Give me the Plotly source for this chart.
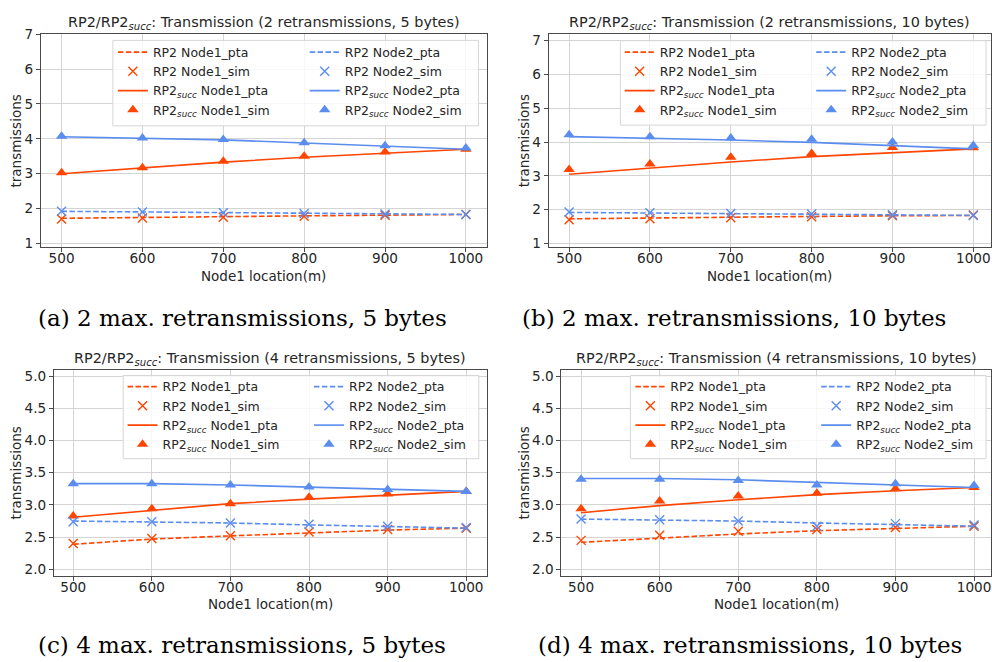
import plotly.graph_objects as go

W, H = 992, 662

X_LOC = [500, 600, 700, 800, 900, 1000]

# Panel (a): 2 retransmissions, 5 bytes
A_RP2_N1_PTA = [1.72, 1.75, 1.77, 1.79, 1.81, 1.83]
A_RP2_N1_SIM = [1.70, 1.73, 1.75, 1.78, 1.81, 1.83]
A_SUCC_N1_PTA = [3.00, 3.17, 3.33, 3.47, 3.59, 3.70]
A_SUCC_N1_SIM = [3.03, 3.17, 3.36, 3.50, 3.62, 3.70]
A_RP2_N2_PTA = [1.92, 1.90, 1.88, 1.86, 1.84, 1.83]
A_RP2_N2_SIM = [1.92, 1.90, 1.88, 1.86, 1.84, 1.83]
A_SUCC_N2_PTA = [4.06, 4.02, 3.97, 3.88, 3.79, 3.70]
A_SUCC_N2_SIM = [4.07, 4.02, 3.98, 3.89, 3.80, 3.74]

# Panel (b): 2 retransmissions, 10 bytes
B_RP2_N1_PTA = [1.73, 1.76, 1.78, 1.80, 1.82, 1.83]
B_RP2_N1_SIM = [1.70, 1.73, 1.76, 1.79, 1.82, 1.84]
B_SUCC_N1_PTA = [3.05, 3.24, 3.41, 3.57, 3.69, 3.80]
B_SUCC_N1_SIM = [3.19, 3.35, 3.55, 3.66, 3.84, 3.83]
B_RP2_N2_PTA = [1.92, 1.90, 1.88, 1.86, 1.85, 1.83]
B_RP2_N2_SIM = [1.93, 1.91, 1.89, 1.87, 1.85, 1.83]
B_SUCC_N2_PTA = [4.16, 4.12, 4.06, 3.99, 3.89, 3.80]
B_SUCC_N2_SIM = [4.22, 4.16, 4.12, 4.08, 4.00, 3.90]

# Panel (c): 4 retransmissions, 5 bytes
C_RP2_N1_PTA = [2.39, 2.47, 2.52, 2.57, 2.61, 2.64]
C_RP2_N1_SIM = [2.40, 2.48, 2.52, 2.58, 2.62, 2.64]
C_SUCC_N1_PTA = [2.81, 2.92, 3.02, 3.09, 3.15, 3.21]
C_SUCC_N1_SIM = [2.83, 2.94, 3.02, 3.12, 3.17, 3.21]
C_RP2_N2_PTA = [2.75, 2.74, 2.72, 2.69, 2.66, 2.64]
C_RP2_N2_SIM = [2.74, 2.74, 2.72, 2.70, 2.67, 2.65]
C_SUCC_N2_PTA = [3.33, 3.33, 3.31, 3.28, 3.24, 3.21]
C_SUCC_N2_SIM = [3.33, 3.33, 3.31, 3.28, 3.24, 3.21]

# Panel (d): 4 retransmissions, 10 bytes
D_RP2_N1_PTA = [2.42, 2.49, 2.55, 2.60, 2.64, 2.67]
D_RP2_N1_SIM = [2.45, 2.53, 2.59, 2.62, 2.65, 2.67]
D_SUCC_N1_PTA = [2.88, 2.99, 3.08, 3.16, 3.22, 3.27]
D_SUCC_N1_SIM = [2.94, 3.06, 3.14, 3.18, 3.25, 3.27]
D_RP2_N2_PTA = [2.78, 2.77, 2.75, 2.72, 2.69, 2.67]
D_RP2_N2_SIM = [2.78, 2.77, 2.75, 2.67, 2.71, 2.69]
D_SUCC_N2_PTA = [3.41, 3.41, 3.39, 3.35, 3.31, 3.27]
D_SUCC_N2_SIM = [3.40, 3.40, 3.38, 3.31, 3.33, 3.30]

SERIES_NAMES = [
    "RP2 Node1_pta", "RP2 Node1_sim",
    "RP2<sub><i>succ</i></sub> Node1_pta", "RP2<sub><i>succ</i></sub> Node1_sim",
    "RP2 Node2_pta", "RP2 Node2_sim",
    "RP2<sub><i>succ</i></sub> Node2_pta", "RP2<sub><i>succ</i></sub> Node2_sim",
]

PANEL_TITLES = [
    "RP2/RP2<sub><i>succ</i></sub>: Transmission (2 retransmissions, 5 bytes)",
    "RP2/RP2<sub><i>succ</i></sub>: Transmission (2 retransmissions, 10 bytes)",
    "RP2/RP2<sub><i>succ</i></sub>: Transmission (4 retransmissions, 5 bytes)",
    "RP2/RP2<sub><i>succ</i></sub>: Transmission (4 retransmissions, 10 bytes)",
]
CAPTIONS = [
    "(a) 2 max. retransmissions, 5 bytes",
    "(b) 2 max. retransmissions, 10 bytes",
    "(c) 4 max. retransmissions, 5 bytes",
    "(d) 4 max. retransmissions, 10 bytes",
]
X_TITLE = "Node1 location(m)"
Y_TITLE = "transmissions"

PANELS = [
    [A_RP2_N1_PTA, A_RP2_N1_SIM, A_SUCC_N1_PTA, A_SUCC_N1_SIM,
     A_RP2_N2_PTA, A_RP2_N2_SIM, A_SUCC_N2_PTA, A_SUCC_N2_SIM],
    [B_RP2_N1_PTA, B_RP2_N1_SIM, B_SUCC_N1_PTA, B_SUCC_N1_SIM,
     B_RP2_N2_PTA, B_RP2_N2_SIM, B_SUCC_N2_PTA, B_SUCC_N2_SIM],
    [C_RP2_N1_PTA, C_RP2_N1_SIM, C_SUCC_N1_PTA, C_SUCC_N1_SIM,
     C_RP2_N2_PTA, C_RP2_N2_SIM, C_SUCC_N2_PTA, C_SUCC_N2_SIM],
    [D_RP2_N1_PTA, D_RP2_N1_SIM, D_SUCC_N1_PTA, D_SUCC_N1_SIM,
     D_RP2_N2_PTA, D_RP2_N2_SIM, D_SUCC_N2_PTA, D_SUCC_N2_SIM],
]

ORANGE = "#FF4500"
BLUE = "#5B8DEF"
TXT = "#262626"
FONT = "DejaVu Sans"

# layout geometry in pixels: (left, right, top, bottom) of each plot area
BOXES = [(41, 487, 26.7, 243.3), (549.3, 992, 26.7, 243.3),
         (54, 487, 368.3, 578.3), (562, 992, 368.3, 578.3)]
XRANGES = [[474.5, 1025.5], [474.8, 1021.9], [475.5, 1025.8], [475.0, 1021.6]]
YRANGES = [[0.9, 7.0], [0.9, 7.19], [1.9, 5.1], [1.9, 5.1]]
LEGEND_BOX = [(113, 479, 33, 120), (621, 987, 33.3, 119.3),
              (123.3, 479.3, 374.3, 459), (631, 987, 374.3, 459)]
LEGEND_COLS = [(113, 305, 30), (620.3, 812, 30), (122.7, 309.3, 370.7), (631, 817, 370.7)]
TITLE_Y = [15.5, 15.5, 357, 357]
XTITLE_Y = [273, 273, 607.5, 607.5]
YTITLE_X = [16, 524.3, 15.7, 524.3]
CAPTION_POS = [(242.5, 316), (735, 316), (242.5, 649), (751, 649)]


def px(x):
    return x / W


def py(y):
    return 1 - y / H


fig = go.Figure()

for p, series in enumerate(PANELS):
    xa = "x" if p == 0 else f"x{p + 1}"
    ya = "y" if p == 0 else f"y{p + 1}"
    for i, vals in enumerate(series):
        color = ORANGE if i < 4 else BLUE
        kind = i % 4
        col = 0 if i < 4 else 1
        leg_idx = p * 2 + col + 1
        leg = "legend" if leg_idx == 1 else f"legend{leg_idx}"
        common = dict(x=X_LOC, y=vals, name=SERIES_NAMES[i], xaxis=xa, yaxis=ya,
                      legend=leg, legendgroup=f"p{p}s{i}", showlegend=True,
                      hoverinfo="skip")
        if kind == 0:
            tr = go.Scatter(mode="lines", line=dict(color=color, width=1.6, dash="5.5px,2.4px"), **common)
        elif kind == 1:
            tr = go.Scatter(mode="markers",
                            marker=dict(symbol="x-thin", size=9, color=color,
                                        line=dict(color=color, width=1.4)), **common)
        elif kind == 2:
            tr = go.Scatter(mode="lines", line=dict(color=color, width=1.6), **common)
        else:
            tr = go.Scatter(mode="markers",
                            marker=dict(symbol="triangle-up", size=10, color=color,
                                        line=dict(width=0)), **common)
        fig.add_trace(tr)

layout = dict(
    width=W, height=H, margin=dict(l=0, r=0, t=0, b=0),
    paper_bgcolor="white", plot_bgcolor="white",
    font=dict(family=FONT, color=TXT),
    annotations=[], shapes=[],
)

for p in range(4):
    l, r, t, b = BOXES[p]
    suffix = "" if p == 0 else str(p + 1)
    ax_common = dict(showline=True, mirror=True, linecolor="#4a4a4a", linewidth=1,
                     showgrid=True, gridcolor="#d4d4d4", gridwidth=1,
                     ticks="outside", ticklen=4, tickcolor="#4a4a4a", tickwidth=1,
                     tickfont=dict(family=FONT, size=13.6, color=TXT),
                     zeroline=False, fixedrange=True)
    layout["xaxis" + suffix] = dict(
        domain=[px(l), px(r)], range=XRANGES[p], anchor="y" + suffix,
        tickvals=X_LOC, ticklabelstandoff=-5, **ax_common)
    if p < 2:
        yt = dict(tickvals=[1, 2, 3, 4, 5, 6, 7])
    else:
        yt = dict(tickvals=[2.0, 2.5, 3.0, 3.5, 4.0, 4.5, 5.0], tickformat=".1f")
    layout["yaxis" + suffix] = dict(
        domain=[py(b), py(t)], range=YRANGES[p], anchor="x" + suffix,
        **yt, **ax_common)

    # legends (two columns)
    c1, c2, ltop = LEGEND_COLS[p]
    for c, lx in enumerate((c1, c2)):
        idx = p * 2 + c + 1
        key = "legend" if idx == 1 else f"legend{idx}"
        layout[key] = dict(x=px(lx), y=py(ltop), xanchor="left", yanchor="top",
                           orientation="v", bgcolor="rgba(0,0,0,0)", borderwidth=0,
                           font=dict(family=FONT, size=12.5, color=TXT),
                           itemwidth=30, tracegroupgap=1.4, traceorder="normal")
    lb = LEGEND_BOX[p]
    layout["shapes"].append(dict(
        type="rect", xref="paper", yref="paper", layer="above",
        x0=px(lb[0]), x1=px(lb[1]), y0=py(lb[3]), y1=py(lb[2]),
        fillcolor="rgba(255,255,255,0.8)", line=dict(color="#d6d6d6", width=1)))

    cx = (l + r) / 2
    layout["annotations"].append(dict(
        text=PANEL_TITLES[p], xref="paper", yref="paper", x=px(cx), y=py(TITLE_Y[p]),
        xanchor="center", yanchor="middle", showarrow=False,
        font=dict(family=FONT, size=14.4, color=TXT)))
    layout["annotations"].append(dict(
        text=X_TITLE, xref="paper", yref="paper", x=px(cx), y=py(XTITLE_Y[p]),
        xanchor="center", yanchor="middle", showarrow=False,
        font=dict(family=FONT, size=13.5, color=TXT)))
    layout["annotations"].append(dict(
        text=Y_TITLE, xref="paper", yref="paper", x=px(YTITLE_X[p]), y=py((t + b) / 2),
        xanchor="center", yanchor="middle", showarrow=False, textangle=-90,
        font=dict(family=FONT, size=13.5, color=TXT)))
    cxp, cyp = CAPTION_POS[p]
    layout["annotations"].append(dict(
        text=CAPTIONS[p], xref="paper", yref="paper", x=px(cxp), y=py(cyp),
        xanchor="center", yanchor="middle", showarrow=False,
        font=dict(family="DejaVu Serif", size=23, color="black")))

fig.update_layout(**layout)
fig.write_html("out.html", config={"displayModeBar": False, "staticPlot": True},
               post_script="document.body.style.margin='0';document.body.style.overflow='hidden';")
